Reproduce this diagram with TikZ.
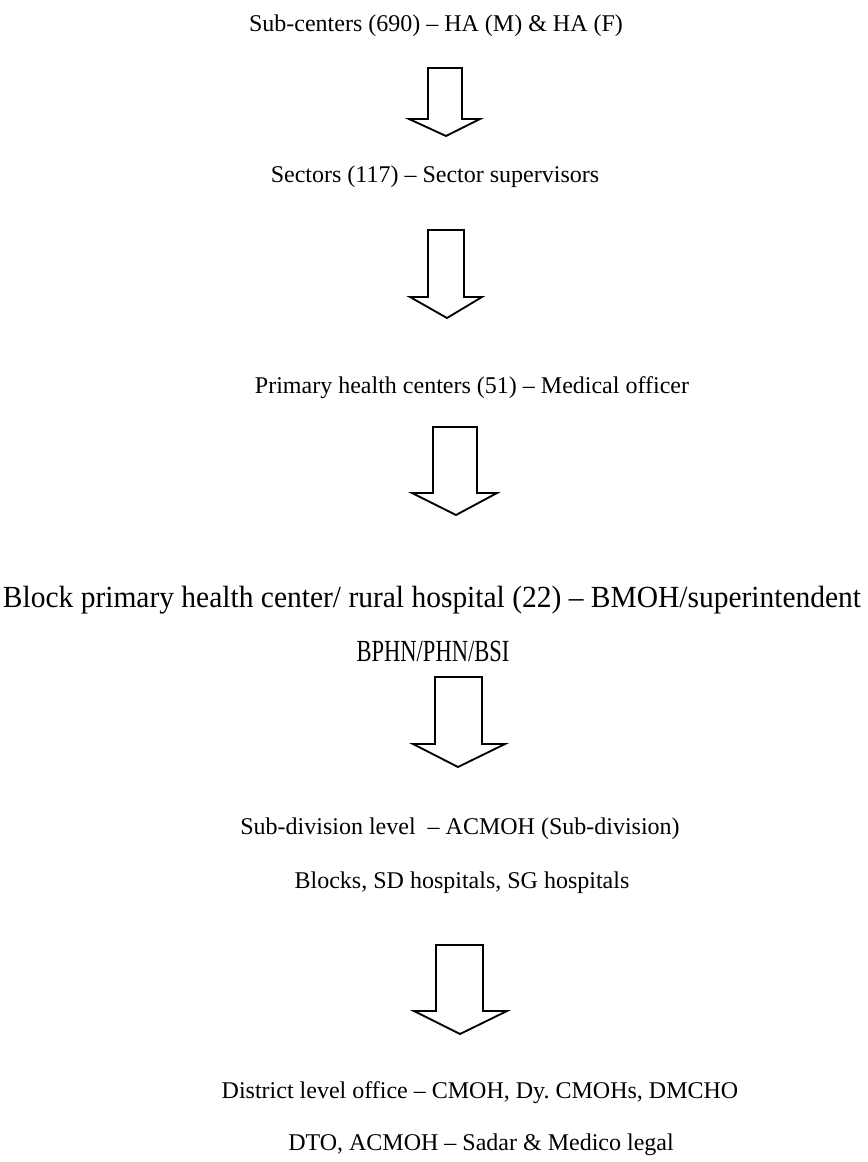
\documentclass[tikz,border=0pt]{standalone}
\usepackage{fontspec}
\setmainfont{Liberation Serif}
\newcommand\blockarrow[9]{%
  % #1 name, #2 shaft left, #3 shaft right, #4 top, #5 wing y, #6 wing left, #7 wing right, #8 tip x, #9 tip y
  \draw[arrowshape] (#2,#4) coordinate (#1-top) -- (#3,#4) -- (#3,#5) -- (#7,#5) -- (#8,#9) coordinate (#1-tip) -- (#6,#5) -- (#2,#5) -- cycle;}
\newcommand\condensed[2]{\resizebox{#1\dimexpr0.75pt\relax}{1.28\height}{#2}}
\begin{document}
\begin{tikzpicture}[x=0.75pt,y=-0.75pt,
  lbl/.style={font=\fontsize{18}{21}\selectfont, inner sep=0pt, anchor=base},
  lblalt/.style={font=\fontsize{18}{21}\selectfont, inner sep=0pt, anchor=base},
  arrowshape/.style={draw=black, line width=1.4pt, line join=miter, fill=white}]
\useasboundingbox (0,0) rectangle (867,1162);
\node[lbl] (l1) at (436,32) {Sub-centers (690) -- HA (M) \& HA (F)};
\node[lbl] (l2) at (435,183) {Sectors (117) -- Sector supervisors};
\node[lbl] (l3) at (472,393) {Primary health centers (51) -- Medical officer};
\node[lblalt] (l4) at (432,607) {\condensed{858}{Block primary health center/ rural hospital (22) -- BMOH/superintendent}};
\node[lblalt] (l5) at (433,661) {\condensed{153}{BPHN/PHN/BSI}};
\node[lbl] (l6) at (460,834) {Sub-division level\ \ -- ACMOH (Sub-division)};
\node[lbl] (l7) at (462,888) {Blocks, SD hospitals, SG hospitals};
\node[lbl] (l8) at (480,1098) {District level office -- CMOH, Dy.\ CMOHs, DMCHO};
\node[lbl] (l9) at (481,1150) {DTO, ACMOH -- Sadar \& Medico legal};
\blockarrow{a1}{428}{462}{68}{119}{409}{480}{446}{136}
\blockarrow{a2}{428}{464}{230}{297}{410}{482}{447}{318}
\blockarrow{a3}{433}{477}{427}{493}{412}{497}{456}{515}
\blockarrow{a4}{435}{482}{677}{744}{413}{505}{458}{767}
\blockarrow{a5}{436}{483}{945}{1011}{414}{507}{460}{1034}
\end{tikzpicture}
\end{document}
